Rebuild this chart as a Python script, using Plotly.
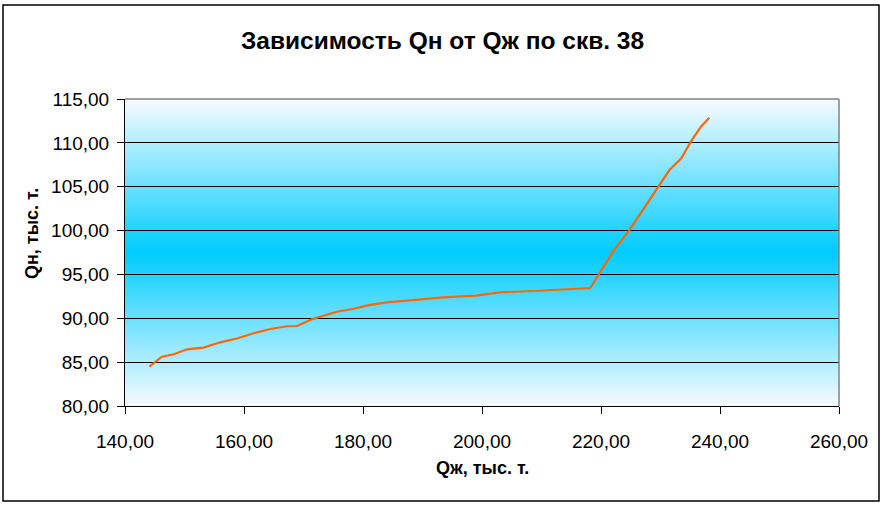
import base64
import struct
import zlib

import plotly.graph_objects as go

# Qж, тыс. т. (liquid) vs Qн, тыс. т. (oil), well 38
q_liquid = [144.1, 146.2, 148.2, 150.4, 153.2, 156.0, 158.8, 161.6, 164.4, 167.2,
            168.9, 171.4, 172.8, 175.6, 178.4, 181.2, 184.0, 186.7, 189.5, 193.4,
            199.0, 203.0, 208.6, 214.2, 218.2, 219.8, 222.0, 224.8, 227.6, 229.9,
            231.5, 233.5, 235.1, 236.8, 238.2]
q_oil = [84.48, 85.62, 85.90, 86.46, 86.65, 87.26, 87.70, 88.29, 88.78, 89.09,
         89.12, 89.88, 90.18, 90.75, 91.09, 91.52, 91.82, 92.00, 92.12, 92.39,
         92.58, 92.96, 93.11, 93.30, 93.45, 95.20, 97.60, 100.07, 102.92, 105.20,
         106.90, 108.24, 110.14, 111.85, 112.87]

x_range = [140, 260]
y_range = [80, 115]

W, H = 885, 508
L, R, T, B = 125, 46, 99, 102
pw, ph = W - L - R, H - T - B

font = "Liberation Sans, Arial, sans-serif"


def gradient_png(edge=(247, 251, 255), center=(0, 204, 255), rows=256):
    """Tiny 1px-wide PNG: edge colour -> centre colour -> edge colour."""
    raw = b""
    for i in range(rows):
        t = 1 - abs(i / (rows - 1) * 2 - 1)
        px = bytes(round(e + (c - e) * t) for e, c in zip(edge, center))
        raw += b"\x00" + px

    def chunk(tag, data):
        return (struct.pack(">I", len(data)) + tag + data
                + struct.pack(">I", zlib.crc32(tag + data) & 0xffffffff))

    png = (b"\x89PNG\r\n\x1a\n"
           + chunk(b"IHDR", struct.pack(">IIBBBBB", 1, rows, 8, 2, 0, 0, 0))
           + chunk(b"IDAT", zlib.compress(raw))
           + chunk(b"IEND", b""))
    return "data:image/png;base64," + base64.b64encode(png).decode()


fig = go.Figure()

fig.add_trace(go.Scatter(
    x=q_liquid, y=q_oil, mode="lines",
    line=dict(color="#ff6600", width=2.2), showlegend=False,
))

axis_common = dict(
    showline=True, linecolor="black", linewidth=1, mirror=False,
    ticks="outside", ticklen=7, tickcolor="black",
    tickfont=dict(family=font, size=19, color="black"),
    zeroline=False, tickformat=".2f",
)

fig.update_xaxes(range=x_range, dtick=20, showgrid=False,
                 ticklabelstandoff=11, **axis_common)
fig.update_yaxes(range=y_range, dtick=5, showgrid=True, gridcolor="black",
                 gridwidth=1, ticklabelstandoff=4, **axis_common)

shapes = [
    # gray top/right border of plot area
    dict(type="line", xref="paper", yref="paper", x0=0, x1=1, y0=1, y1=1,
         line=dict(color="#808080", width=1.5)),
    dict(type="line", xref="paper", yref="paper", x0=1, x1=1, y0=0, y1=1,
         line=dict(color="#808080", width=1.5)),
    # outer chart border
    dict(type="rect", xref="paper", yref="paper",
         x0=(3 - L) / pw, x1=(879 - L) / pw,
         y0=(H - 501 - B) / ph, y1=(H - 5 - B) / ph,
         line=dict(color="black", width=1.5)),
]

fig.update_layout(
    width=W, height=H,
    margin=dict(l=L, r=R, t=T, b=B),
    paper_bgcolor="white", plot_bgcolor="rgba(0,0,0,0)",
    separators=", ",
    shapes=shapes,
    images=[dict(source=gradient_png(), xref="paper", yref="paper",
                 x=0, y=1, sizex=1, sizey=1, xanchor="left", yanchor="top",
                 sizing="stretch", layer="below")],
    title=dict(text="<b>Зависимость Qн от Qж по скв. 38</b>",
               x=0.5, xanchor="center", y=1 - 40 / H, yanchor="middle",
               font=dict(family=font, size=24.5, color="black")),
    annotations=[
        dict(text="<b>Qж, тыс. т.</b>", xref="paper", yref="paper",
             x=0.5, y=(H - 468 - B) / ph, xanchor="center", yanchor="middle",
             showarrow=False, font=dict(family=font, size=18, color="black")),
        dict(text="<b>Qн, тыс. т.</b>", xref="paper", yref="paper",
             x=(32 - L) / pw, y=(H - 234 - B) / ph, xanchor="center", yanchor="middle",
             textangle=-90, showarrow=False,
             font=dict(family=font, size=18, color="black")),
    ],
)

fig.write_html("out.html", config={"displayModeBar": False},
               post_script="document.body.style.margin='0';")
